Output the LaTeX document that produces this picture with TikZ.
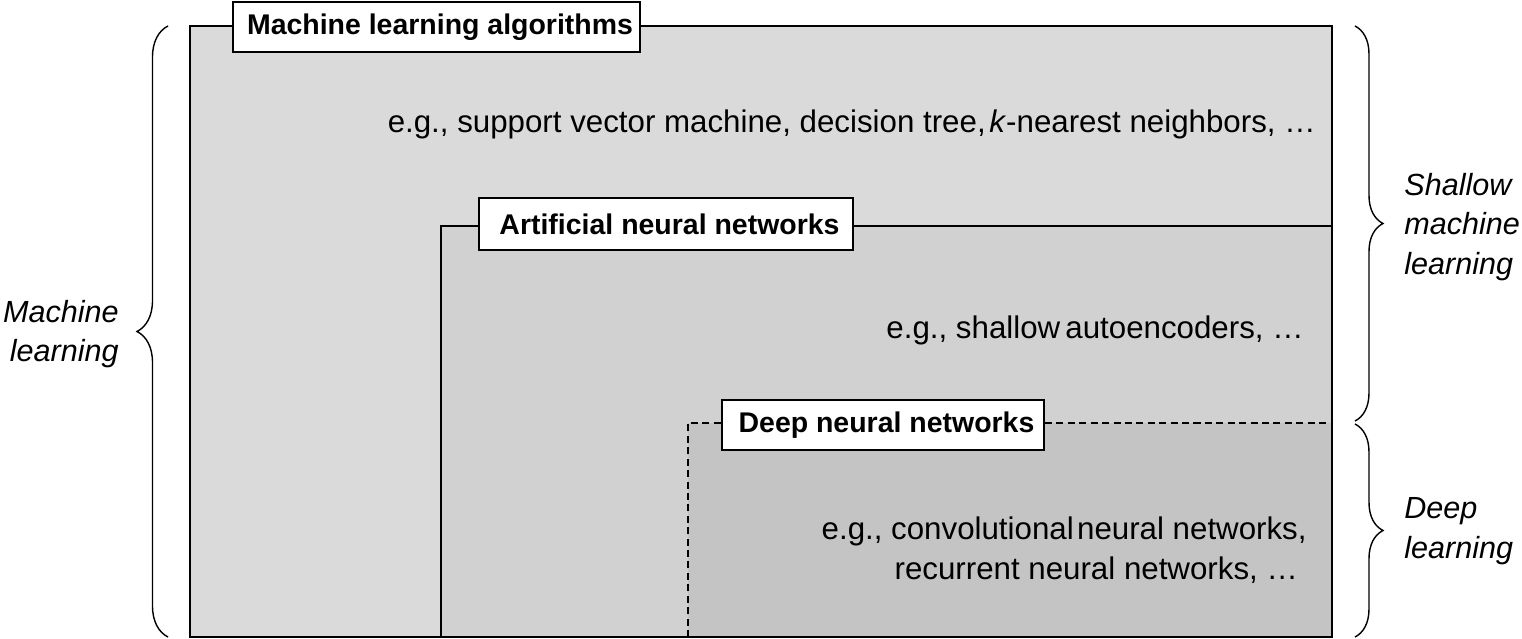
\documentclass[tikz,border=0pt]{standalone}
\usepackage{fontspec}
\setmainfont{Liberation Sans}
\usetikzlibrary{decorations.pathreplacing}
\definecolor{gA}{gray}{0.855}
\definecolor{gB}{gray}{0.82}
\definecolor{gC}{gray}{0.77}
\tikzset{
  titlebox/.style={draw=black, fill=white, line width=0.9pt, font=\fontsize{16.2}{20}\selectfont\bfseries, inner sep=0pt, minimum height=1cm},
  egtext/.style={font=\fontsize{17.8}{23}\selectfont, inner sep=0pt, align=right},
  sidelabel/.style={font=\fontsize{17.4}{22.5}\selectfont\itshape, inner sep=0pt},
  bracestyle/.style={decorate, line width=0.8pt},
  frame/.style={line width=1pt},
}
\begin{document}
\begin{tikzpicture}[x=0.02cm,y=-0.02cm]
\useasboundingbox (0,0) rectangle (1522,639);
% outer box
\coordinate (o1) at (190,26);
\coordinate (o2) at (1332,637);
\fill[gA] (o1) rectangle (o2);
% ANN box
\coordinate (a1) at (441,226);
\fill[gB] (a1) rectangle (o2);
\draw[frame] (441,637) -- (a1) -- (1332,226);
% DNN box
\coordinate (d1) at (688,423);
\fill[gC] (d1) rectangle (o2);
\draw[line width=0.7pt, dash pattern=on 4pt off 2.5pt] (688,637) -- (d1) -- (1332,423);
\draw[frame] (o1) rectangle (o2);
% titles
\node[titlebox, minimum width=8.14cm] (t1) at (436.5,27) {\hspace*{4pt}Machine learning algorithms};
\node[titlebox, minimum width=7.48cm, minimum height=1.04cm] (t2) at (666,224) {\hspace*{4pt}Artificial neural networks};
\node[titlebox, minimum width=6.44cm] (t3) at (883,425) {\hspace*{4pt}Deep neural networks};
% example texts
\node[egtext, anchor=east] (e1) at (1316,124) {e.g., support vector machine, decision tree,\hspace{2pt}\textit{k}-nearest neighbors, …};
\node[egtext, anchor=east] (e2) at (1304,330) {e.g., shallow\hspace{-2pt} autoencoders, …};
\node[egtext, anchor=east] (e3) at (1307,550) {e.g., convolutional\hspace{-3pt} neural networks,\\recurrent neural networks, …\hspace*{5pt}};
% braces
\coordinate (bl1) at (168,637);
\coordinate (bl2) at (168,26);
\draw[bracestyle, decoration={brace, amplitude=0.62cm}] (bl1) -- (bl2);
\coordinate (br1) at (1355,26);
\coordinate (br2) at (1355,421);
\coordinate (br3) at (1355,424);
\coordinate (br4) at (1355,637);
\draw[bracestyle, decoration={brace, amplitude=0.56cm}] (br1) -- (br2);
\draw[bracestyle, decoration={brace, amplitude=0.56cm}] (br3) -- (br4);
% side labels
\node[sidelabel, anchor=east, align=right] (ml) at (119,334) {Machine\\learning};
\node[sidelabel, anchor=west, align=left] (sml) at (1404,227) {Shallow\\machine\\learning};
\node[sidelabel, anchor=west, align=left] (dl) at (1404,531) {Deep\\learning};
\end{tikzpicture}
\end{document}
